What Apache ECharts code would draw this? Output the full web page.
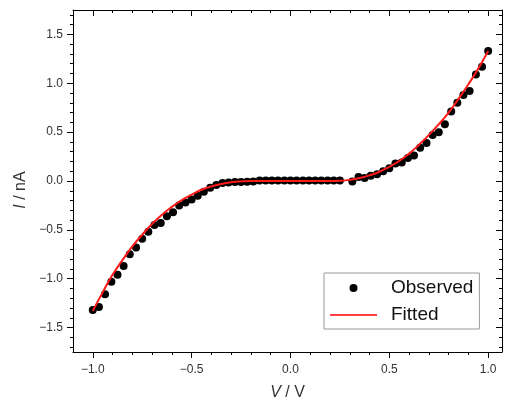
<!DOCTYPE html>
<html>
<head>
<meta charset="utf-8">
<script src="https://cdn.jsdelivr.net/npm/echarts@6/dist/echarts.min.js"></script>
<style>html,body{margin:0;padding:0;background:#fff}#c{width:507px;height:406px}</style>
</head>
<body>
<div id="c"></div>
<script>
// Observed data (V in volts, I in nA)
const obsV = [-1.000,-0.969,-0.938,-0.906,-0.875,-0.844,-0.813,-0.781,-0.750,-0.719,
  -0.688,-0.656,-0.625,-0.594,-0.563,-0.531,-0.500,-0.469,-0.438,-0.406,
  -0.375,-0.344,-0.313,-0.281,-0.250,-0.219,-0.188,-0.156,-0.125,-0.094,
  -0.063,-0.031,0.000,0.031,0.063,0.094,0.125,0.156,0.188,0.219,
  0.250,0.313,0.344,0.375,0.406,0.438,0.469,0.500,0.531,0.563,
  0.594,0.625,0.656,0.688,0.719,0.750,0.781,0.813,0.844,0.875,
  0.906,0.938,0.969,1.000];
const obsI = [-1.32,-1.29,-1.16,-1.03,-0.96,-0.87,-0.75,-0.68,-0.59,-0.52,
  -0.45,-0.43,-0.36,-0.32,-0.25,-0.22,-0.19,-0.15,-0.11,-0.07,
  -0.04,-0.02,-0.015,-0.01,-0.01,-0.008,-0.006,0.004,0.004,0.004,
  0.004,0.004,0.004,0.004,0.004,0.004,0.004,0.004,0.004,0.004,
  0.004,-0.005,0.04,0.03,0.055,0.07,0.10,0.13,0.18,0.19,
  0.235,0.26,0.34,0.39,0.47,0.50,0.58,0.71,0.80,0.88,
  0.92,1.09,1.17,1.33];
// Fitted curve
const fitV = [-1.00,-0.95,-0.90,-0.85,-0.80,-0.75,-0.70,-0.65,-0.60,-0.55,-0.50,-0.45,-0.40,-0.35,-0.30,-0.25,-0.20,
  0.20,0.25,0.30,0.35,0.40,0.45,0.50,0.55,0.60,0.65,0.70,0.75,0.80,0.85,0.90,0.95,1.00];
const fitI = [-1.33,-1.14,-0.96,-0.81,-0.67,-0.55,-0.44,-0.345,-0.265,-0.195,-0.14,-0.09,-0.055,-0.03,-0.013,-0.004,0.0,
  0.0,0.002,0.012,0.03,0.058,0.095,0.145,0.205,0.28,0.37,0.47,0.58,0.70,0.84,0.99,1.15,1.33];
// Axis ticks
const xMajor = [-1.0,-0.5,0.0,0.5,1.0];
const xMinor = [-0.9,-0.8,-0.7,-0.6,-0.4,-0.3,-0.2,-0.1,0.1,0.2,0.3,0.4,0.6,0.7,0.8,0.9];
const yMajor = [-1.5,-1.0,-0.5,0.0,0.5,1.0,1.5];
const yMinor = [-1.7,-1.6,-1.4,-1.3,-1.2,-1.1,-0.9,-0.8,-0.7,-0.6,-0.4,-0.3,-0.2,-0.1,
  0.1,0.2,0.3,0.4,0.6,0.7,0.8,0.9,1.1,1.2,1.3,1.4,1.6,1.7];
const X_MIN = -1.1, X_MAX = 1.07, Y_MIN = -1.75, Y_MAX = 1.75;

const FONT = '"Liberation Sans", Arial, sans-serif';
const fmt = v => (v < 0 ? '\u2212' : '') + Math.abs(v).toFixed(1);

function xAx(pos, vals, len, inside, showLine, labels, extra) {
  return Object.assign({
    type: 'value', min: X_MIN, max: X_MAX, position: pos,
    axisLine: { show: showLine, onZero: false, lineStyle: { color: '#000', width: 1 } },
    axisTick: { show: true, customValues: vals, length: len, inside: inside, lineStyle: { color: '#000', width: 1 } },
    axisLabel: labels ? { show: true, customValues: vals, formatter: fmt, margin: 12, fontSize: 12, color: '#333', fontFamily: FONT } : { show: false },
    splitLine: { show: false }
  }, extra || {});
}
function yAx(pos, vals, len, inside, showLine, labels, extra) {
  return Object.assign({
    type: 'value', min: Y_MIN, max: Y_MAX, position: pos,
    axisLine: { show: showLine, onZero: false, lineStyle: { color: '#000', width: 1 } },
    axisTick: { show: true, customValues: vals, length: len, inside: inside, lineStyle: { color: '#000', width: 1 } },
    axisLabel: labels ? { show: true, customValues: vals, formatter: fmt, margin: 10, fontSize: 12, color: '#333', fontFamily: FONT } : { show: false },
    splitLine: { show: false }
  }, extra || {});
}

const chart = echarts.init(document.getElementById('c'), null, { renderer: 'canvas' });
chart.setOption({
  animation: false,
  backgroundColor: '#fff',
  grid: { left: 73, top: 10, right: 5, bottom: 52, containLabel: false },
  legend: {
    orient: 'vertical', left: 324, top: 273,
    backgroundColor: '#fff', borderColor: '#999', borderWidth: 1,
    padding: [4, 6, 3, 5], itemGap: 5, itemWidth: 47, itemHeight: 8,
    textStyle: { fontSize: 19, color: '#111', fontFamily: FONT, lineHeight: 22, padding: [0, 0, 0, 9] },
    data: [
      { name: 'Observed', icon: 'circle', itemStyle: { color: '#000', opacity: 1 } },
      { name: 'Fitted', itemStyle: { color: 'rgba(0,0,0,0)', borderWidth: 0, opacity: 0 }, lineStyle: { color: '#ff4040', width: 2 } }
    ]
  },
  xAxis: [
    xAx('bottom', xMajor, 6, false, true, true, {
      name: '{i|V} / V', nameLocation: 'middle', nameGap: 33,
      nameTextStyle: { fontSize: 16, color: '#333', fontFamily: FONT, rich: { i: { fontStyle: 'italic', fontSize: 16, color: '#333', fontFamily: FONT } } }
    }),
    xAx('bottom', xMinor, 3, false, false, false),
    xAx('top', xMajor, 6, true, true, false),
    xAx('top', xMinor, 3, true, false, false)
  ],
  yAxis: [
    yAx('left', yMajor, 6, false, true, true, {
      name: '{i|I} / nA', nameLocation: 'middle', nameGap: 44, nameRotate: 90,
      nameTextStyle: { fontSize: 16, color: '#333', fontFamily: FONT, padding: [0, 18, 0, 0], rich: { i: { fontStyle: 'italic', fontSize: 16, color: '#333', fontFamily: FONT } } }
    }),
    yAx('left', yMinor, 3, false, false, false),
    yAx('right', yMajor, 6, true, true, false),
    yAx('right', yMinor, 3, true, false, false)
  ],
  series: [
    {
      name: 'Observed', type: 'scatter', xAxisIndex: 0, yAxisIndex: 0,
      symbol: 'circle', symbolSize: 8,
      itemStyle: { color: '#000', opacity: 1 },
      data: obsV.map((v, i) => [v, obsI[i]]), z: 2
    },
    {
      name: 'Fitted', type: 'line', xAxisIndex: 0, yAxisIndex: 0,
      smooth: true, showSymbol: false, symbol: 'none',
      lineStyle: { color: '#ff1a1a', width: 2 }, itemStyle: { color: '#ff1a1a' },
      data: fitV.map((v, i) => [v, fitI[i]]), z: 3
    }
  ]
});
</script>
</body>
</html>
